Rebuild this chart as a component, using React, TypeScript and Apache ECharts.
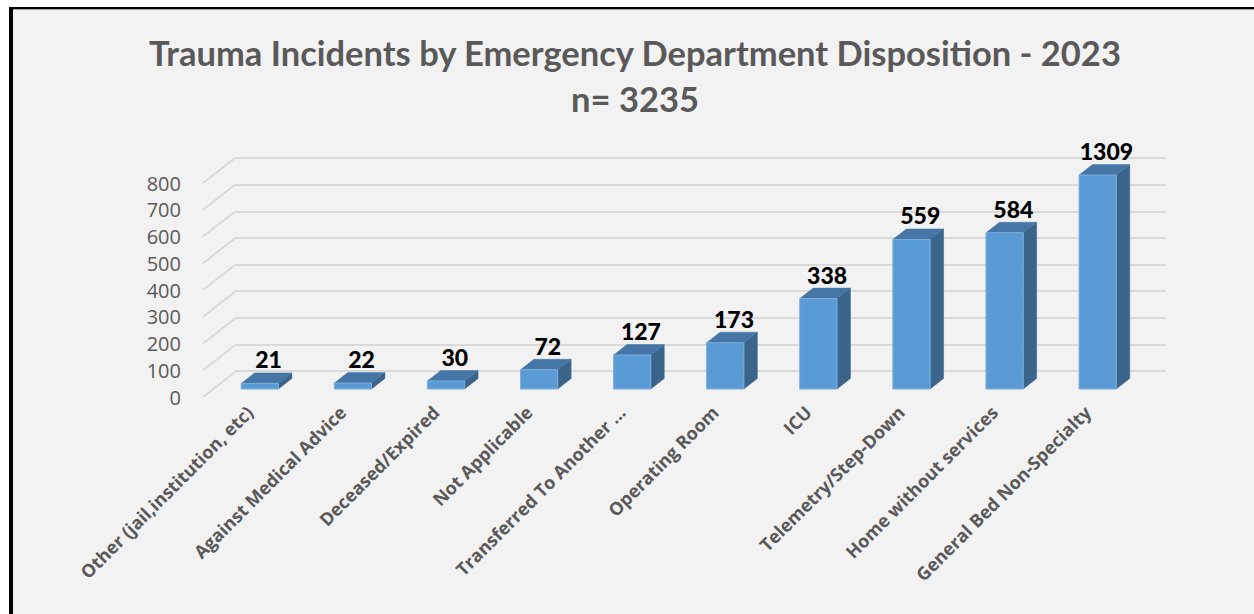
import React, { useEffect, useRef } from "react";
import * as echarts from "echarts";

const TITLE = "Trauma Incidents by Emergency Department Disposition - 2023";
const SUBTITLE = "n= 3235";
const categories = [
  "Other (jail,institution, etc)",
  "Against Medical Advice",
  "Deceased/Expired",
  "Not Applicable",
  "Transferred To Another …",
  "Operating Room",
  "ICU",
  "Telemetry/Step-Down",
  "Home without services",
  "General Bed Non-Specialty",
];
const values = [21, 22, 30, 72, 127, 173, 338, 559, 584, 1309];
const yTicks = [0, 100, 200, 300, 400, 500, 600, 700, 800];
const Y_MIN = 0;
const Y_MAX = 800;
const Y_INTERVAL = 100;

// 3D look (oblique projection)
const DEPTH_X = 32;
const DEPTH_Y = -25;
const BAR_FRONT = 0.32;
const BAR_BACK = 0.74;
const BAR_RATIO = 0.4;

const GRID_LINE = "#D9D9D9";
const TEXT_GREY = "#595959";

export default function App() {
  const ref = useRef<HTMLDivElement>(null);

  useEffect(() => {
    if (!ref.current) return;
    const chart = echarts.init(ref.current, undefined, { renderer: "svg" });

    const barRender = (params: any, api: any) => {
      const i = api.value(0);
      const v = api.value(1);
      const cs = params.coordSys;
      const base = api.coord([i, 0]);
      const topPt = api.coord([i, v]);
      const bw = api.size([1, 0])[0] * BAR_RATIO;
      const yTop = Math.max(topPt[1], cs.y);
      const x0 = base[0] - bw / 2 + DEPTH_X * BAR_FRONT;
      const x1 = x0 + bw;
      const yb = base[1] + DEPTH_Y * BAR_FRONT;
      const yt = yTop + DEPTH_Y * BAR_FRONT;
      const ddx = DEPTH_X * (BAR_BACK - BAR_FRONT);
      const ddy = DEPTH_Y * (BAR_BACK - BAR_FRONT);
      return {
        type: "group",
        children: [
          {
            type: "polygon",
            shape: { points: [[x1, yt], [x1 + ddx, yt + ddy], [x1 + ddx, yb + ddy], [x1, yb]] },
            style: { fill: "#3A6489", stroke: "#3A6489", lineWidth: 0.5 },
          },
          {
            type: "polygon",
            shape: { points: [[x0, yt], [x1, yt], [x1 + ddx, yt + ddy], [x0 + ddx, yt + ddy]] },
            style: { fill: "#4576A6", stroke: "#4576A6", lineWidth: 0.5 },
          },
          {
            type: "rect",
            shape: { x: x0, y: yt, width: bw, height: yb - yt },
            style: { fill: "#5B9BD5", stroke: "#7AAEDD", lineWidth: 1 },
          },
          {
            type: "text",
            x: (x0 + x1) / 2 + ddx * 0.65,
            y: yt + ddy - 2,
            style: {
              text: String(v),
              align: "center",
              verticalAlign: "bottom",
              fontFamily: "Lato",
              fontWeight: 900,
              fontSize: 23,
              fill: "#000000",
            },
          },
        ],
      };
    };

    const diagRender = (params: any, api: any) => {
      const t = api.value(1);
      const cs = params.coordSys;
      const p = api.coord([0, t]);
      return {
        type: "line",
        shape: { x1: cs.x, y1: p[1], x2: cs.x + DEPTH_X, y2: p[1] + DEPTH_Y },
        style: { stroke: GRID_LINE, lineWidth: 2 },
      };
    };

    chart.setOption({
      animation: false,
      backgroundColor: "transparent",
      graphic: [
        {
          type: "text",
          x: 635,
          y: 52,
          style: {
            text: TITLE,
            align: "center",
            verticalAlign: "middle",
            fontFamily: "Lato",
            fontWeight: "bold",
            fontSize: 34.5,
            fill: TEXT_GREY,
          },
        },
        {
          type: "text",
          x: 635,
          y: 98,
          style: {
            text: SUBTITLE,
            align: "center",
            verticalAlign: "middle",
            fontFamily: "Lato",
            fontWeight: "bold",
            fontSize: 34.5,
            fill: TEXT_GREY,
          },
        },
      ],
      grid: [
        { left: 235, width: 931, top: 158, height: 213 },
        { left: 203, width: 931, top: 183, height: 214 },
      ],
      xAxis: [
        {
          gridIndex: 0,
          type: "category",
          data: categories,
          show: false,
        },
        {
          gridIndex: 1,
          type: "category",
          data: categories,
          axisLine: { show: false },
          axisTick: { show: false },
          axisLabel: {
            rotate: 45,
            interval: 0,
            margin: 12,
            fontFamily: "Open Sans",
            fontWeight: "bold",
            fontSize: 18,
            color: TEXT_GREY,
          },
        },
      ],
      yAxis: [
        {
          gridIndex: 0,
          type: "value",
          min: Y_MIN,
          max: Y_MAX,
          interval: Y_INTERVAL,
          axisLine: { show: false },
          axisTick: { show: false },
          axisLabel: { show: false },
          splitLine: { show: true, lineStyle: { color: GRID_LINE, width: 2 } },
        },
        {
          gridIndex: 1,
          type: "value",
          min: Y_MIN,
          max: Y_MAX,
          interval: Y_INTERVAL,
          axisLine: { show: false },
          axisTick: { show: false },
          splitLine: { show: false },
          axisLabel: {
            margin: 22,
            fontFamily: "Open Sans",
            fontSize: 20,
            color: TEXT_GREY,
          },
        },
      ],
      series: [
        {
          type: "custom",
          xAxisIndex: 1,
          yAxisIndex: 1,
          data: yTicks.map((t) => [0, t]),
          renderItem: diagRender,
          silent: true,
          z: 1,
        },
        {
          type: "custom",
          xAxisIndex: 1,
          yAxisIndex: 1,
          data: values.map((v, i) => [i, v]),
          renderItem: barRender,
          z: 3,
        },
      ],
    });

    return () => chart.dispose();
  }, []);

  return (
    <div style={{ position: "fixed", left: 0, top: 0, width: 1254, height: 614, background: "#ffffff" }}>
      <div
        style={{
          position: "absolute",
          left: 9,
          top: 7,
          width: 1245,
          height: 607,
          boxSizing: "border-box",
          background: "#F2F2F2",
          borderLeft: "4px solid #000",
          borderTop: "2px solid #000",
          boxShadow: "inset 0 1px 0 #A6A6A6",
        }}
      />
      <div ref={ref} style={{ position: "absolute", left: 0, top: 0, width: 1254, height: 614 }} />
    </div>
  );
}
